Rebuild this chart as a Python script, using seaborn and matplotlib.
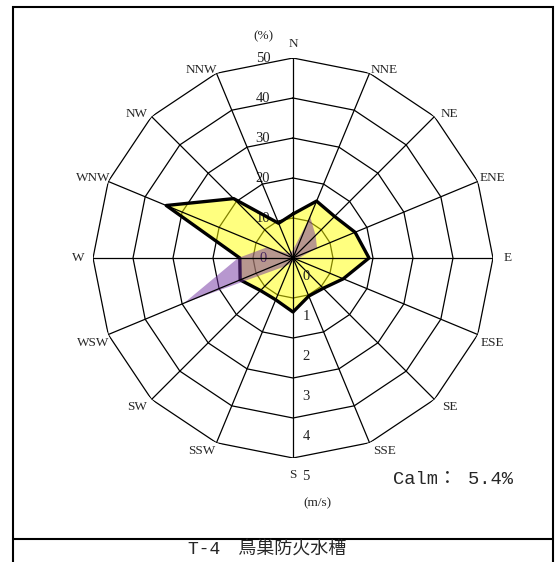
import numpy as np
import pandas as pd
import matplotlib
matplotlib.use("Agg")
import matplotlib.pyplot as plt
from matplotlib.lines import Line2D
from matplotlib.patches import Rectangle
import seaborn as sns

# 16方位
directions = ["N", "NNE", "NE", "ENE", "E", "ESE", "SE", "SSE",
              "S", "SSW", "SW", "WSW", "W", "WNW", "NW", "NNW"]
# 風向出現頻度 (%)
freq = [11.0, 15.4, 14.7, 16.8, 19.0, 13.6, 10.7, 10.3,
        13.5, 11.3, 11.5, 14.3, 13.3, 34.3, 21.0, 9.4]
# 平均風速 (m/s)
speed = [0.2, 1.12, 0.8, 0.65, 0.15, 0.1, 0.1, 0.1,
         0.1, 0.15, 0.3, 2.95, 1.37, 0.7, 0.15, 0.15]
calm = 5.4
pct_ticks = [0, 10, 20, 30, 40, 50]
speed_ticks = [0, 1, 2, 3, 4, 5]
title = "T-4　鳥巣防火水槽"

sns.set_theme(style="white")
plt.rcParams["font.family"] = ["Liberation Serif", "Noto Sans CJK JP"]

W, H = 557, 562
cx, cy, R = 293, 258, 200
fig = plt.figure(figsize=(W / 100, H / 100), dpi=100)
fig.patch.set_facecolor("white")
rect = [(cx - R) / W, (H - cy - R) / H, 2 * R / W, 2 * R / H]

df = pd.DataFrame({"dir": directions, "freq": freq, "speed": speed})
df["theta"] = np.deg2rad(np.arange(len(df)) * 360 / len(df))
closed = pd.concat([df, df.iloc[[0]].assign(theta=2 * np.pi)], ignore_index=True)


def setup(ax, rmax):
    ax.set_theta_zero_location("N")
    ax.set_theta_direction(-1)
    ax.set_ylim(0, rmax)
    ax.set_xticks([])
    ax.set_yticks([])
    ax.grid(False)
    ax.spines["polar"].set_visible(False)
    ax.patch.set_alpha(0)


ax = fig.add_axes(rect, projection="polar")
setup(ax, pct_ticks[-1])

# 多角形の目盛線
for r in pct_ticks[1:]:
    ax.plot(closed["theta"], [r] * len(closed), color="black", lw=0.9, zorder=1)

ax.fill(closed["theta"], closed["freq"], color="#FFFF00", alpha=0.5, lw=0, zorder=2)
sns.lineplot(x=closed["theta"].values, y=closed["freq"].values, ax=ax, sort=False,
             estimator=None, color="black", lw=2.4, zorder=4)
ax.set_xlabel("")
ax.set_ylabel("")

px = 0.72  # px -> pt
for th, name in zip(df["theta"], df["dir"]):
    s, c = np.sin(th), np.cos(th)
    if abs(s) < 0.01:
        dx, dy = 0, (-14 if c > 0 else 17)
    else:
        dx = 15 * np.sign(s)
        dy = -3 if c > 0.01 else (0 if abs(c) < 0.01 else 8)
    ax.annotate(name, xy=(th, pct_ticks[-1]), xytext=(dx * px, -dy * px),
                textcoords="offset points", ha="center", va="center", fontsize=9.5)

for t in pct_ticks:
    ax.annotate(str(t), xy=(0, t), xytext=(-30 * px, 0), textcoords="offset points",
                ha="center", va="center", fontsize=10.5, color="#222222")
ax.annotate("(%)", xy=(0, pct_ticks[-1]), xytext=(-30 * px, 22 * px),
            textcoords="offset points", ha="center", va="center", fontsize=9.5)

# 風速軸
ax2 = fig.add_axes(rect, projection="polar")
setup(ax2, speed_ticks[-1])
ax2.fill(closed["theta"], closed["speed"], color="#7030A0", alpha=0.5, lw=0, zorder=2)
for th in df["theta"]:
    ax2.plot([th, th], [0, speed_ticks[-1]], color="black", lw=0.9, zorder=3)

for t in speed_ticks:
    ax2.annotate(str(t), xy=(np.pi, t), xytext=(13 * px, -19 * px), textcoords="offset points",
                 ha="center", va="center", fontsize=10.5, color="#222222")
ax2.annotate("(m/s)", xy=(np.pi, speed_ticks[-1]), xytext=(24 * px, -45 * px),
             textcoords="offset points", ha="center", va="center", fontsize=9.5)

fig.text(453 / W, 1 - 480 / H, f"Calm： {calm}%", ha="center", va="center", fontsize=13.5,
         family=["Liberation Mono", "Noto Sans CJK JP"])

# 枠
fig.add_artist(Rectangle((13.5 / W, -0.05), (553 - 13.5) / W, 1.05 - 6.5 / H,
                         transform=fig.transFigure, fill=False, lw=1.5, color="black"))
fig.add_artist(Line2D([13.5 / W, 553 / W], [1 - 539 / H, 1 - 539 / H],
                      transform=fig.transFigure, lw=1.5, color="black"))
fig.text(188 / W, 1 - 550 / H, title, ha="left", va="center", fontsize=13,
         family=["Liberation Mono", "Noto Sans CJK JP"])

fig.savefig("out.png", dpi=100)
